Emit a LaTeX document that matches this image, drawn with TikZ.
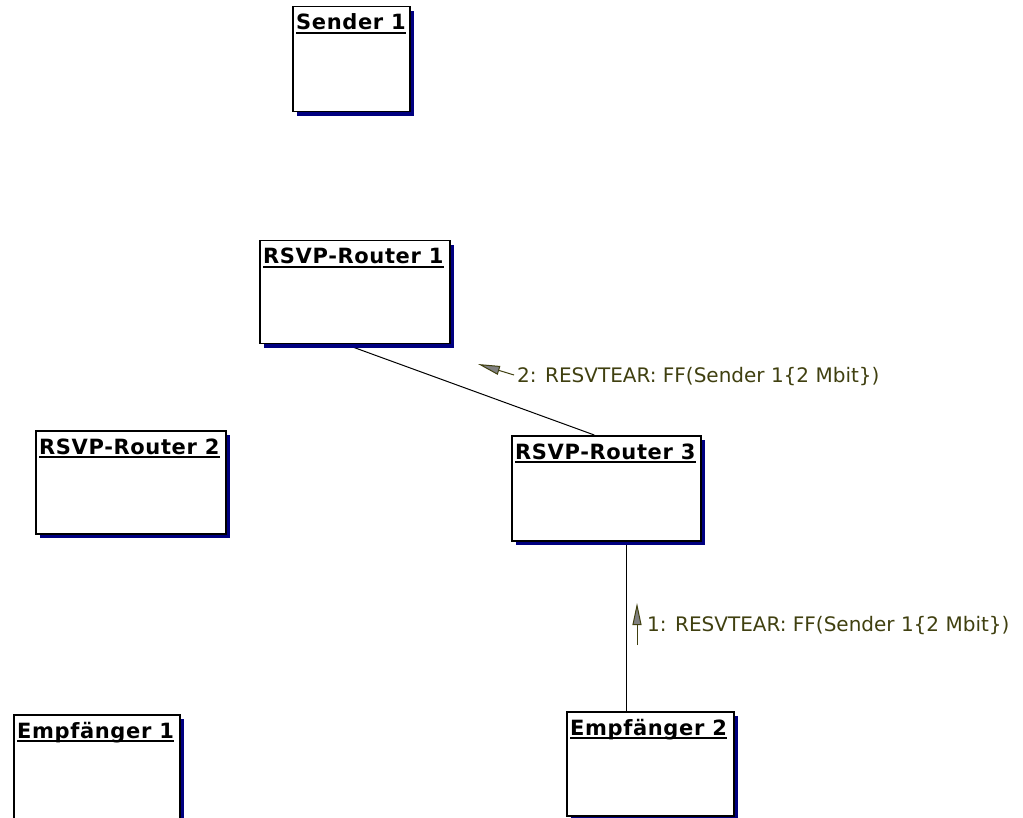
\documentclass[tikz,border=0pt]{standalone}
\usepackage{fontspec}
\setmainfont{DejaVu Sans}
\newfontfamily\boxfont[LetterSpace=3]{DejaVu Sans}
\usetikzlibrary{arrows.meta}
\usetikzlibrary{shadows}
\usetikzlibrary{positioning}
\pgfdeclarelayer{back}
\pgfsetlayers{back,main}
\definecolor{shadownavy}{RGB}{0,0,128}
\definecolor{msgolive}{RGB}{64,64,16}
\definecolor{tipgray}{RGB}{128,128,128}

\begin{document}
\begin{tikzpicture}[x=1pt,y=-1pt]
\def\l{22pt}
\def\w{9pt}
\tikzset{
  objbox/.style={draw=black, line width=1.5pt, fill=white, anchor=north west, inner sep=0pt,
    drop shadow={shadow xshift=4pt, shadow yshift=-4pt, fill=shadownavy, opacity=1}},
  objtitle/.style={anchor=base west, inner sep=0pt, font=\fontsize{21}{25}\boxfont\bfseries},
  uline/.style={line width=1.5pt},
  link/.style={line width=1pt},
  msg/.style={anchor=base west, inner sep=0pt, text=msgolive, font=\fontsize{20}{24}\selectfont},
  msgarrow/.style={draw=msgolive, line width=1pt, -{Triangle[length=\l, width=\w, fill=tipgray]}}
}
\useasboundingbox (0,0) rectangle (1023,818);
% objects
\node [objbox, minimum width=117pt, minimum height=105pt] (s1) at (292,6) {};
\node [objbox, minimum width=190pt, minimum height=103pt] (r1) at (259,240) {};
\node [objbox, minimum width=190pt, minimum height=103pt] (r2) at (35,430) {};
\node [objbox, minimum width=189pt, minimum height=105pt] (r3) at (511,435) {};
\node [objbox, minimum width=166pt, minimum height=110pt] (e1) at (13,714) {};
\node [objbox, minimum width=167pt, minimum height=104pt] (e2) at (566,711) {};
% titles
\node [objtitle] (s1t) at ([xshift=4pt, yshift=-24pt]s1.north west) {Sender 1};
\node [objtitle] (r1t) at ([xshift=4pt, yshift=-24pt]r1.north west) {RSVP-Router 1};
\node [objtitle] (r2t) at ([xshift=4pt, yshift=-24pt]r2.north west) {RSVP-Router 2};
\node [objtitle] (r3t) at ([xshift=4pt, yshift=-24pt]r3.north west) {RSVP-Router 3};
\node [objtitle] (e1t) at ([xshift=4pt, yshift=-24pt]e1.north west) {Empfänger 1};
\node [objtitle] (e2t) at ([xshift=4pt, yshift=-24pt]e2.north west) {Empfänger 2};
\draw [uline] ([yshift=-3pt]s1t.base west) -- ([yshift=-3pt]s1t.base east);
\draw [uline] ([yshift=-3pt]r1t.base west) -- ([yshift=-3pt]r1t.base east);
\draw [uline] ([yshift=-3pt]r2t.base west) -- ([yshift=-3pt]r2t.base east);
\draw [uline] ([yshift=-3pt]r3t.base west) -- ([yshift=-3pt]r3t.base east);
\draw [uline] ([yshift=-3pt]e1t.base west) -- ([yshift=-3pt]e1t.base east);
\draw [uline] ([yshift=-3pt]e2t.base west) -- ([yshift=-3pt]e2t.base east);
% links
\begin{pgfonlayer}{back}
\draw [link] ([xshift=-9pt]r1.south) -- ([xshift=-12pt]r3.north);
\draw [link] ([xshift=20pt]r3.south) -- ([xshift=20pt]r3.south |- e2.north);
\end{pgfonlayer}
% messages
\node [msg] (m1) at (647,631) {1: RESVTEAR: FF(Sender 1\{2 Mbit\})};
\node [msg] (m2) at (517,382) {2: RESVTEAR: FF(Sender 1\{2 Mbit\})};
\coordinate (a1) at (637,645);
\coordinate (a1tip) at (637,603);
\coordinate (a2) at (514,375);
\coordinate (a2tip) at (478,364);
\draw [msgarrow] (a1) -- (a1tip);
\draw [msgarrow] (a2) -- (a2tip);
\end{tikzpicture}
\end{document}
